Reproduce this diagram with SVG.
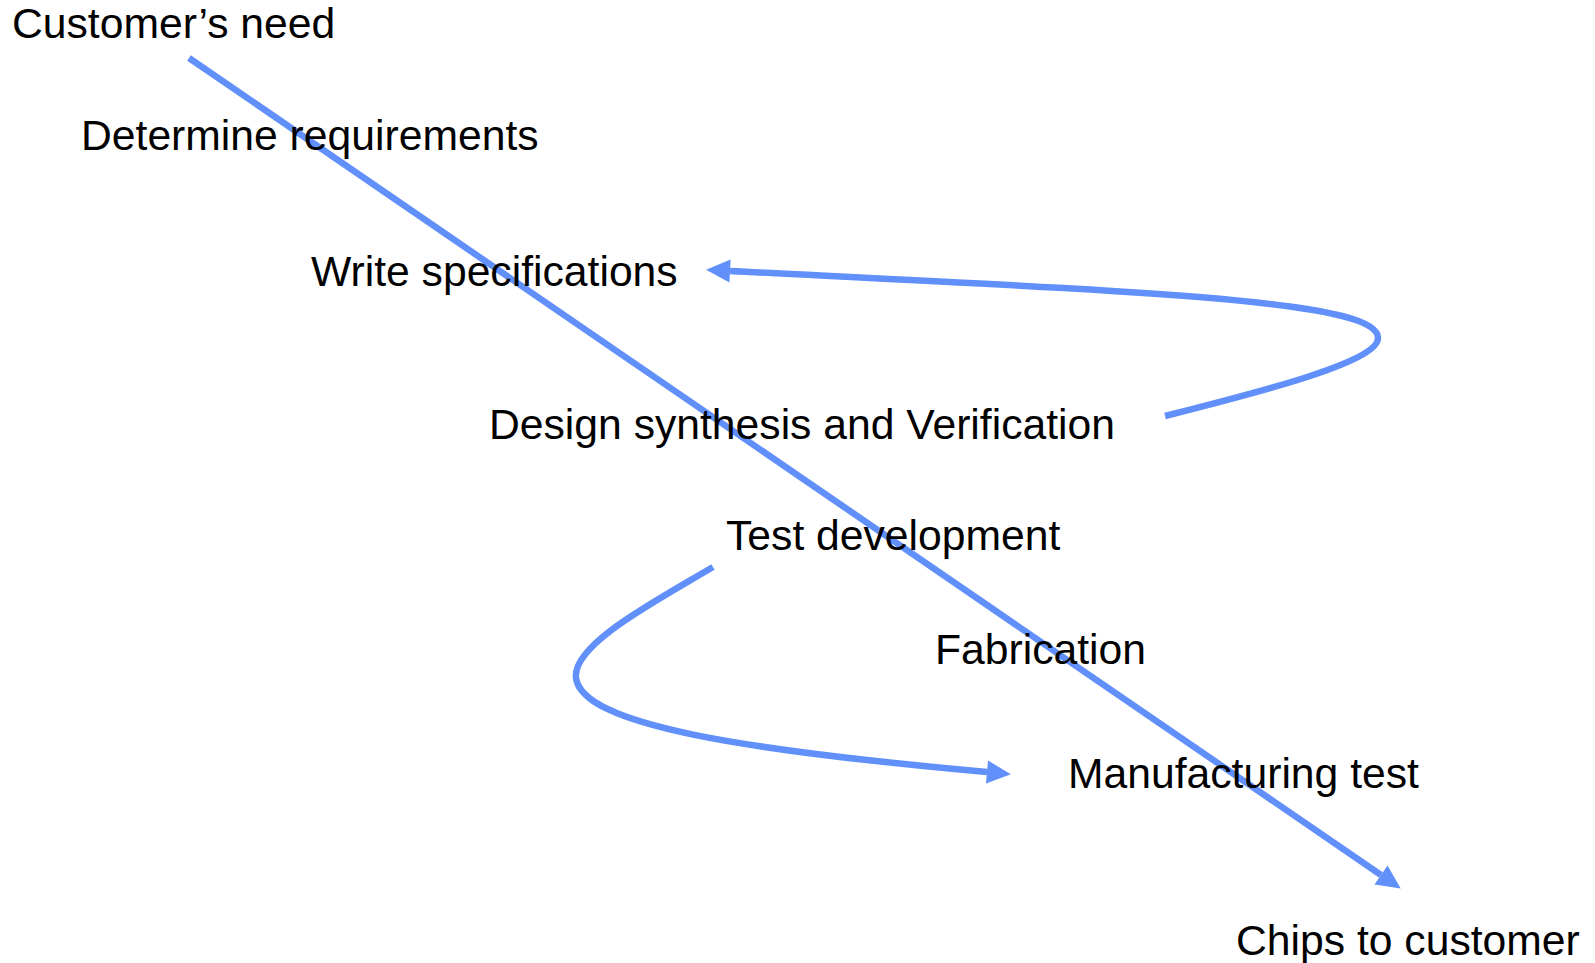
<svg xmlns="http://www.w3.org/2000/svg" width="1595" height="963" viewBox="0 0 1595 963">
  <defs>
    <style>
      .lbl { font-family: "Liberation Sans", Arial, sans-serif; font-size: 42.67px; fill: #000; }
      .flow { fill: none; stroke: #6190FA; stroke-width: 6.5; stroke-linecap: butt; }
    </style>
    <marker id="head" markerUnits="userSpaceOnUse" markerWidth="30" markerHeight="26" viewBox="0 -13 26 26" refX="0" refY="0" orient="auto">
      <path d="M0,-11.5 L24,0 L0,11.5 Z" fill="#6190FA"/>
    </marker>
  </defs>
  <rect width="1595" height="963" fill="#fff"/>

  <!-- flow connectors -->
  <g id="connectors">
    <path class="flow" d="M189,58 L1381,875" marker-end="url(#head)"/>
    <path class="flow" d="M1165,416 C1260,392 1378,362 1378,338 C1378,300 1150,292 730,271" marker-end="url(#head)"/>
    <path class="flow" d="M713,567 C652,603 572,645 576,678 C582,725 742,750 987,772" marker-end="url(#head)"/>
  </g>

  <!-- process steps -->
  <g id="customers-need"><text class="lbl" x="12" y="38">Customer’s need</text></g>
  <g id="determine-requirements"><text class="lbl" x="81" y="150">Determine requirements</text></g>
  <g id="write-specifications"><text class="lbl" x="311" y="286">Write specifications</text></g>
  <g id="design-synthesis"><text class="lbl" x="489" y="439">Design synthesis and Verification</text></g>
  <g id="test-development"><text class="lbl" x="726" y="550">Test development</text></g>
  <g id="fabrication"><text class="lbl" x="935" y="664">Fabrication</text></g>
  <g id="manufacturing-test"><text class="lbl" x="1068" y="788">Manufacturing test</text></g>
  <g id="chips-to-customer"><text class="lbl" x="1236" y="955">Chips to customer</text></g>
</svg>
